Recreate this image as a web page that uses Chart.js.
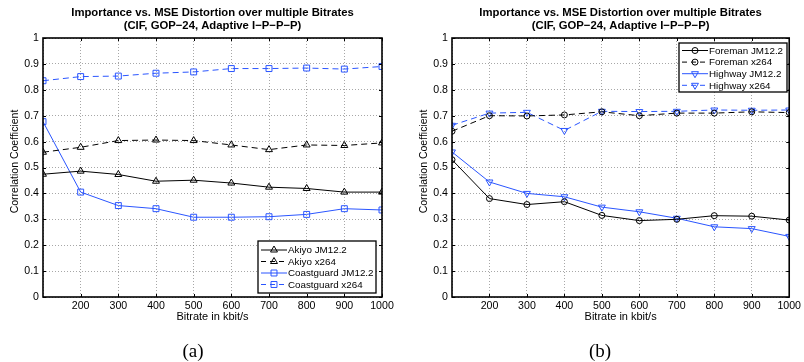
<!DOCTYPE html>
<html>
<head>
<meta charset="utf-8">
<script src="https://cdn.jsdelivr.net/npm/chart.js@4.4.1/dist/chart.umd.min.js"></script>
<style>
  html, body { margin: 0; padding: 0; background: #fff; }
  body { width: 804px; height: 362px; position: relative; overflow: hidden; }
  .wrap { position: absolute; top: 0; height: 362px; }
  #wa { left: 0; width: 402px; }
  #wb { left: 409px; width: 395px; }
</style>
</head>
<body>
<div class="wrap" id="wa"><canvas id="ca" width="402" height="362"></canvas></div>
<div class="wrap" id="wb"><canvas id="cb" width="395" height="362"></canvas></div>
<script>
// ---- data ----
const bitrates      = [100, 200, 300, 400, 500, 600, 700, 800, 900, 1000];
const xTicks        = [200, 300, 400, 500, 600, 700, 800, 900, 1000];
const yTicks        = [0, 0.1, 0.2, 0.3, 0.4, 0.5, 0.6, 0.7, 0.8, 0.9, 1];
const akiyoJM       = [0.474, 0.486, 0.473, 0.447, 0.451, 0.440, 0.424, 0.419, 0.405, 0.405];
const akiyoX264     = [0.559, 0.578, 0.604, 0.606, 0.604, 0.587, 0.569, 0.587, 0.585, 0.595];
const coastJM       = [0.677, 0.405, 0.353, 0.341, 0.308, 0.308, 0.310, 0.319, 0.341, 0.336];
const coastX264     = [0.835, 0.851, 0.853, 0.864, 0.869, 0.882, 0.882, 0.884, 0.880, 0.890];
const foremanJM     = [0.530, 0.380, 0.357, 0.368, 0.315, 0.295, 0.300, 0.314, 0.312, 0.297];
const foremanX264   = [0.640, 0.700, 0.699, 0.703, 0.715, 0.700, 0.710, 0.710, 0.715, 0.712];
const highwayJM     = [0.560, 0.444, 0.400, 0.387, 0.347, 0.329, 0.304, 0.271, 0.264, 0.234];
const highwayX264   = [0.663, 0.710, 0.713, 0.643, 0.717, 0.716, 0.717, 0.722, 0.721, 0.722];
const titleLines    = ['Importance vs. MSE Distortion over multiple Bitrates', '(CIF, GOP\u221224, Adaptive I\u2212P\u2212P\u2212P)'];
const xTitle        = 'Bitrate in kbit/s';
const yTitle        = 'Correlation Coefficient';

const SANS = '"Liberation Sans", Arial, Helvetica, sans-serif';
const BLUE = '#2a55ff';
const BLACK = '#000000';

function pts(arr) { return bitrates.map((x, i) => ({ x: x, y: arr[i] })); }

function ds(label, arr, color, dashed, style, radius, rotation) {
  return {
    label: label,
    data: pts(arr),
    borderColor: color,
    backgroundColor: color,
    borderWidth: 1,
    borderDash: dashed ? [6, 4] : [],
    pointStyle: style,
    pointRadius: radius,
    pointRotation: rotation || 0,
    pointBorderColor: color,
    pointBackgroundColor: 'rgba(0,0,0,0)',
    pointBorderWidth: 1,
    tension: 0,
    fill: false
  };
}

function decoPlugin(caption, legendBox) {
  return {
    id: 'deco',
    afterDatasetsDraw(chart) {
      const ctx = chart.ctx, a = chart.chartArea;
      ctx.save();
      // frame
      ctx.strokeStyle = '#000';
      ctx.lineWidth = 1.6;
      ctx.setLineDash([]);
      ctx.strokeRect(a.left, a.top, a.right - a.left, a.bottom - a.top);
      // small inner ticks
      const xs = chart.scales.x, ys = chart.scales.y;
      ctx.lineWidth = 1;
      ctx.beginPath();
      xTicks.forEach(v => {
        const px = Math.round(xs.getPixelForValue(v)) + 0.5;
        ctx.moveTo(px, a.bottom); ctx.lineTo(px, a.bottom - 3);
        ctx.moveTo(px, a.top); ctx.lineTo(px, a.top + 3);
      });
      yTicks.forEach(v => {
        const py = Math.round(ys.getPixelForValue(v)) + 0.5;
        ctx.moveTo(a.left, py); ctx.lineTo(a.left + 3, py);
        ctx.moveTo(a.right, py); ctx.lineTo(a.right - 3, py);
      });
      ctx.stroke();
      // legend
      const lb = legendBox;
      ctx.fillStyle = '#fff';
      ctx.fillRect(lb.x, lb.y, lb.w, lb.h);
      ctx.strokeStyle = '#000';
      ctx.lineWidth = 1.3;
      ctx.strokeRect(lb.x, lb.y, lb.w, lb.h);
      ctx.font = '9.8px ' + SANS;
      ctx.textBaseline = 'middle';
      ctx.textAlign = 'left';
      chart.data.datasets.forEach((d, i) => {
        const y = lb.y + lb.rowTop + i * lb.rowH;
        ctx.strokeStyle = d.borderColor;
        ctx.lineWidth = 1;
        ctx.setLineDash(d.borderDash.length ? [5, 4] : []);
        ctx.beginPath();
        ctx.moveTo(lb.x + 3, y); ctx.lineTo(lb.x + 29, y);
        ctx.stroke();
        ctx.setLineDash([]);
        ctx.fillStyle = 'rgba(0,0,0,0)';
        ctx.strokeStyle = d.borderColor;
        Chart.helpers.drawPoint(ctx, {
          pointStyle: d.pointStyle, radius: d.pointRadius, rotation: d.pointRotation, borderWidth: 1
        }, lb.x + 16, y);
        ctx.fillStyle = '#000';
        ctx.fillText(d.label, lb.x + 30, y + 0.5);
      });
      ctx.restore();
    },
    afterDraw(chart) {
      const ctx = chart.ctx, a = chart.chartArea;
      const cx = (a.left + a.right) / 2;
      ctx.save();
      ctx.fillStyle = '#000';
      ctx.textAlign = 'center';
      ctx.textBaseline = 'middle';
      ctx.font = 'bold 11.3px ' + SANS;
      ctx.fillText(titleLines[0], cx, a.top - 25);
      ctx.fillText(titleLines[1], cx, a.top - 12.5);
      // y axis title
      ctx.save();
      ctx.font = '10.5px ' + SANS;
      ctx.translate(15.5, (a.top + a.bottom) / 2 - 6);
      ctx.rotate(-Math.PI / 2);
      ctx.fillText(yTitle, 0, 0);
      ctx.restore();
      ctx.font = '19px "Liberation Serif", "DejaVu Serif", serif';
      ctx.fillText(caption.text, caption.x, 352);
      ctx.restore();
    }
  };
}

function makeChart(id, datasets, rightPad, caption, legendBox) {
  const ctx = document.getElementById(id).getContext('2d');
  return new Chart(ctx, {
    type: 'line',
    data: { datasets: datasets },
    options: {
      responsive: false,
      animation: false,
      layout: { padding: { top: 38, left: 0, right: rightPad, bottom: 35 } },
      plugins: { legend: { display: false }, tooltip: { enabled: false }, title: { display: false } },
      scales: {
        x: {
          type: 'linear', min: 100, max: 1000,
          afterBuildTicks(scale) { scale.ticks = bitrates.map(v => ({ value: v })); },
          afterFit(scale) { scale.height = 30; },
          ticks: {
            autoSkip: false, maxRotation: 0, padding: 3, color: '#000',
            font: { family: SANS, size: 10.6 },
            callback: v => (xTicks.includes(v) ? String(v) : '')
          },
          grid: { color: 'rgba(80,80,80,0.5)', lineWidth: 1, drawTicks: false },
          border: { display: false, dash: [1, 2] },
          title: { display: true, text: xTitle, color: '#000', font: { family: SANS, size: 11 }, padding: { top: 0, bottom: 3.5 } }
        },
        y: {
          type: 'linear', min: 0, max: 1,
          afterBuildTicks(scale) { scale.ticks = yTicks.map(v => ({ value: v })); },
          afterFit(scale) { scale.width = 43; },
          ticks: {
            padding: 4, color: '#000',
            font: { family: SANS, size: 10.6 },
            callback: v => String(Number(v.toFixed(1)))
          },
          grid: { color: 'rgba(80,80,80,0.5)', lineWidth: 1, drawTicks: false },
          border: { display: false, dash: [1, 2] },
          title: { display: false }
        }
      }
    },
    plugins: [decoPlugin(caption, legendBox)]
  });
}

makeChart('ca', [
  ds('Akiyo JM12.2', akiyoJM, BLACK, false, 'triangle', 4),
  ds('Akiyo x264', akiyoX264, BLACK, true, 'triangle', 4),
  ds('Coastguard JM12.2', coastJM, BLUE, false, 'rect', 4.2),
  ds('Coastguard x264', coastX264, BLUE, true, 'rect', 4.2)
], 20, { text: '(a)', x: 193 }, { x: 258, y: 241, w: 118, h: 52, rowTop: 9, rowH: 11.5 });

makeChart('cb', [
  ds('Foreman JM12.2', foremanJM, BLACK, false, 'circle', 3),
  ds('Foreman x264', foremanX264, BLACK, true, 'circle', 3),
  ds('Highway JM12.2', highwayJM, BLUE, false, 'triangle', 4, 180),
  ds('Highway x264', highwayX264, BLUE, true, 'triangle', 4, 180)
], 14, { text: '(b)', x: 191 }, { x: 270, y: 43, w: 108, h: 49, rowTop: 7.5, rowH: 11.6 });
</script>
</body>
</html>
